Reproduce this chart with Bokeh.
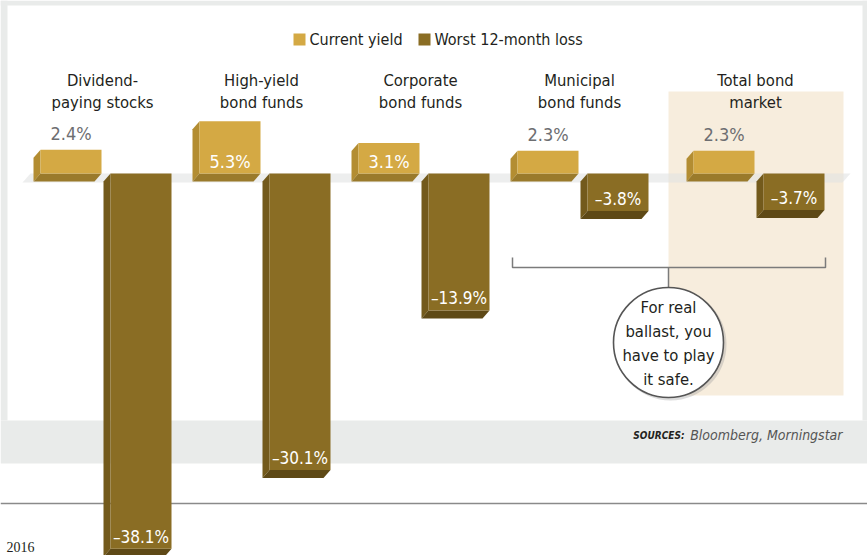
from bokeh.plotting import figure
from bokeh.models import Range1d
from bokeh.core.properties import value
from bokeh.embed import file_html
from bokeh.resources import INLINE

# ---------------- data ----------------
categories = ["Dividend-\npaying stocks", "High-yield\nbond funds", "Corporate\nbond funds",
              "Municipal\nbond funds", "Total bond\nmarket"]
current_yield = [2.4, 5.3, 3.1, 2.3, 2.3]
worst_loss = [-38.1, -30.1, -13.9, -3.8, -3.7]
series_names = ["Current yield", "Worst 12-month loss"]
callout_text = "For real\nballast, you\nhave to play\nit safe."
source_label = "SOURCES:"
source_text = "Bloomberg, Morningstar"
year_text = "2016"

# ---------------- layout helpers ----------------
W, H = 867, 555
K = 9.85      # pixels per percentage point
BASE = 173    # pixel row of zero line


def V(py):
    return (BASE - py) / K


FONT = "'Liberation Sans Narrow', 'DejaVu Sans Condensed', sans-serif"
SERIF = "'Liberation Serif', serif"

Y_FRONT, Y_SIDE, Y_BOT = "#d4a944", "#b38d32", "#9a7a2b"
L_FRONT, L_SIDE, L_BOT = "#8a6d24", "#735a1c", "#5e4916"
GRAY_BG = "#e9ebea"
BEIGE = "#f7eddd"

n = len(categories)
bar_w = 61
step = 159
first_left = 40
extra_gap = 17
yield_left = [first_left + step * i + (extra_gap if i == n - 1 else 0) for i in range(n)]
loss_left = [x + 70 for x in yield_left]
DX, DY = -7, -8 / K

p = figure(width=W, height=H, output_backend="svg", toolbar_location=None,
           x_range=Range1d(0, W), y_range=Range1d(V(H), V(0)),
           x_axis_location=None, y_axis_location=None, min_border=0,
           outline_line_color=None, background_fill_color="white",
           border_fill_color="white")
p.grid.visible = False

# ---------------- background panels ----------------
p.quad(left=[0, 0, W - 5, 0], right=[W, 7, W, W],
       top=[V(0), V(0), V(0), V(420)], bottom=[V(5), V(420), V(420), V(463)],
       fill_color=GRAY_BG, line_color=None)
p.quad(left=[668], right=[843], top=[V(91)], bottom=[V(395)], fill_color=BEIGE, line_color=None)
p.line(x=[0, W], y=[V(503), V(503)], line_color="#8a8a8a", line_width=1.5)

# floor strip
p.patch(x=[30, 850, 842, 22], y=[0, 0, V(182), V(182)], fill_color="#e1e3e3",
        fill_alpha=0.6, line_color=None)

# bracket + callout connector
p.multi_line(xs=[[512, 512, 825, 825], [668, 668]],
             ys=[[V(257), V(267), V(267), V(257)], [V(267), V(288)]],
             line_color="#7b7b7b", line_width=1.5)


# ---------------- bars ----------------
def draw_bars(lefts, vals, front, side, bot):
    sx, sy, bx, by = [], [], [], []
    tops, bots = [], []
    for x, v in zip(lefts, vals):
        t, b = max(v, 0), min(v, 0)
        xr = x + bar_w
        sx.append([x, x, x + DX, x + DX])
        sy.append([t, b, b + DY, t + DY])
        bx.append([x, xr, xr + DX, x + DX])
        by.append([b, b, b + DY, b + DY])
        tops.append(t)
        bots.append(b)
    p.patches(xs=sx, ys=sy, fill_color=side, line_color=None)
    p.patches(xs=bx, ys=by, fill_color=bot, line_color=None)
    p.quad(left=lefts, right=[x + bar_w for x in lefts], top=tops, bottom=bots,
           fill_color=front, line_color=None)


draw_bars(yield_left, current_yield, Y_FRONT, Y_SIDE, Y_BOT)
draw_bars(loss_left, worst_loss, L_FRONT, L_SIDE, L_BOT)

# value labels
yx, yy, ytxt, ycol = [], [], [], []
for x, v in zip(yield_left, current_yield):
    yx.append(x + bar_w / 2)
    ytxt.append(f"{v:.1f}%")
    if v * K >= 28:
        yy.append(12 / K)
        ycol.append("white")
    else:
        yy.append(v + 16 / K)
        ycol.append("#6d6e71")
p.text(x=yx, y=yy, text=ytxt, text_color=ycol, text_font=value(FONT),
       text_font_size="18px", text_align="center", text_baseline="middle")

lx = [x + bar_w / 2 for x in loss_left]
ly = [v + 12 / K for v in worst_loss]
ltxt = [f"\u2013{abs(v):.1f}%" for v in worst_loss]
p.text(x=lx, y=ly, text=ltxt, text_color="white", text_font=value(FONT),
       text_font_size="17px", text_align="center", text_baseline="middle")

# category labels
cx = [(yl + DX + ll + bar_w) / 2 for yl, ll in zip(yield_left, loss_left)]
p.text(x=cx, y=[V(70)] * n, text=categories, text_color="#231f20", text_font=value(FONT),
       text_font_size="16.5px", text_align="center", text_baseline="top", text_line_height=1.2)

# legend
p.quad(left=[293, 418], right=[305, 430], top=[V(33)] * 2, bottom=[V(45)] * 2,
       fill_color=[Y_FRONT, L_FRONT], line_color=None)
p.text(x=[309, 434], y=[V(39)] * 2, text=series_names, text_color="#231f20",
       text_font=value(FONT), text_font_size="16px", text_align="left", text_baseline="middle")

# callout circle
p.circle(x=[670], y=[V(344)], radius=56, radius_units="screen", fill_color="#9a9a9a",
         fill_alpha=0.35, line_color=None)
p.circle(x=[668], y=[V(342)], radius=55, radius_units="screen", fill_color="white",
         line_color="#555555", line_width=1.6)
p.text(x=[668], y=[V(343)], text=[callout_text], text_color="#231f20", text_font=value(FONT),
       text_font_size="16.5px", text_align="center", text_baseline="middle", text_line_height=1.27)

# sources
p.text(x=[684], y=[V(435)], text=[source_label], text_color="#231f20", text_font=value(FONT),
       text_font_size="10px", text_font_style="bold italic", text_align="right",
       text_baseline="middle")
p.text(x=[842], y=[V(434)], text=[source_text], text_color="#555555", text_font=value(FONT),
       text_font_size="14px", text_font_style="italic", text_align="right",
       text_baseline="middle")

# year at bottom-left
p.text(x=[34], y=[V(546)], text=[year_text], text_color="#231f20", text_font=value(SERIF),
       text_font_size="14px", text_align="right", text_baseline="alphabetic")

open("out.html", "w").write(file_html(p, INLINE))
